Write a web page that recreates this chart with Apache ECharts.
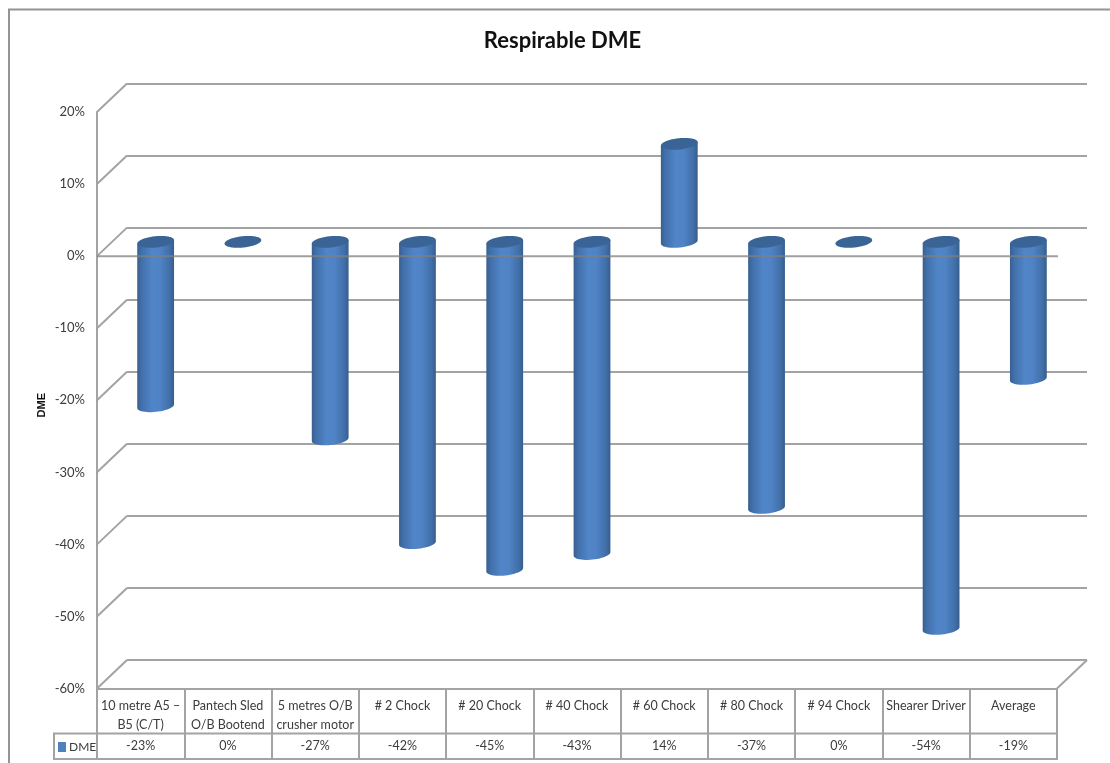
<!DOCTYPE html>
<html>
<head>
<meta charset="utf-8">
<style>html,body{margin:0;padding:0;background:#fff}#c{width:1110px;height:763px}</style>
<script src="https://cdn.jsdelivr.net/npm/echarts@6/dist/echarts.min.js"></script>
</head>
<body>
<div id="c"></div>
<script>
// ---- data ----
const categories = ['10 metre A5 –\nB5 (C/T)', 'Pantech Sled\nO/B Bootend', '5 metres O/B\ncrusher motor', '# 2 Chock', '# 20 Chock', '# 40 Chock', '# 60 Chock', '# 80 Chock', '# 94 Chock', 'Shearer Driver', 'Average'];
const dmeValues = [-22.8, 0, -27.4, -41.8, -45.5, -43.3, 13.6, -36.9, 0, -53.7, -19];
const tableLabels = ['-23%', '0%', '-27%', '-42%', '-45%', '-43%', '14%', '-37%', '0%', '-54%', '-19%'];
const yTicks = [20, 10, 0, -10, -20, -30, -40, -50, -60];
const seriesName = 'DME';
const chartTitle = 'Respirable DME';

// ---- layout and style ----
const FONT = 'Lato, "Noto Sans", sans-serif';
const GRID = '#a3a3a3', TEXT = '#3c3c3c';
const DX = 30, DY = -28.5;           // depth of the 3D box
const L = 97, W = 960, T = 112, H = 576.5;
const TILT = -6 * Math.PI / 180, CAP_B = 5.7;

function capPoint(cx, cy, a, t) {
  return [
    cx + a * Math.cos(t) * Math.cos(TILT) - CAP_B * Math.sin(t) * Math.sin(TILT),
    cy + a * Math.cos(t) * Math.sin(TILT) + CAP_B * Math.sin(t) * Math.cos(TILT)
  ];
}

function renderCylinder(params, api) {
  const i = api.value(0), v = api.value(1);
  const base = api.coord([i, 0]), tip = api.coord([i, v]);
  const a = api.size([1, 0])[0] * 0.212;
  const cx = base[0] + DX / 2;
  const topY = Math.min(base[1], tip[1]) + DY / 2;
  const botY = Math.max(base[1], tip[1]) + DY / 2;
  const children = [];
  if (botY - topY > 0.5) {
    const pts = [capPoint(cx, topY, a, Math.PI)];
    for (let k = 0; k <= 24; k++) pts.push(capPoint(cx, botY, a, Math.PI - Math.PI * k / 24));
    pts.push(capPoint(cx, topY, a, 0));
    children.push({
      type: 'polygon',
      shape: { points: pts },
      style: {
        fill: new echarts.graphic.LinearGradient(0, 0, 1, 0, [
          { offset: 0, color: '#38608f' },
          { offset: 0.12, color: '#4270aa' },
          { offset: 0.4, color: '#5085c8' },
          { offset: 0.62, color: '#4f83c6' },
          { offset: 0.88, color: '#416fa8' },
          { offset: 1, color: '#375e8c' }
        ])
      }
    });
  }
  const cap = [];
  for (let k = 0; k < 48; k++) cap.push(capPoint(cx, topY, a, 2 * Math.PI * k / 48));
  children.push({ type: 'polygon', shape: { points: cap }, style: { fill: '#3b6496' } });
  return { type: 'group', children };
}

function renderWall(params, api) {
  const v = api.value(0), y = api.coord([0, v])[1];
  const cs = params.coordSys;
  const lineStyle = { stroke: GRID, lineWidth: 2, fill: null };
  const out = [{ type: 'line', shape: { x1: cs.x, y1: y, x2: cs.x + DX, y2: y + DY }, style: lineStyle }];
  if (v === yTicks[yTicks.length - 1]) {
    out.push({ type: 'line', shape: { x1: cs.x + cs.width, y1: y, x2: cs.x + cs.width + DX, y2: y + DY }, style: lineStyle });
  }
  return { type: 'group', children: out };
}

function renderFrontZero(params, api) {
  const y = api.coord([0, api.value(0)])[1], cs = params.coordSys;
  return {
    type: 'line',
    shape: { x1: cs.x, y1: y, x2: cs.x + cs.width + 1, y2: y },
    style: { stroke: '#808080', lineWidth: 2, opacity: 0.75 }
  };
}

const chart = echarts.init(document.getElementById('c'), null, { renderer: 'canvas' });
chart.setOption({
  animation: false,
  backgroundColor: '#ffffff',
  title: {
    text: chartTitle, left: 557.5, top: 25, textAlign: 'center',
    textStyle: { fontFamily: FONT, fontSize: 22, fontWeight: 'bold', color: '#111' }
  },
  legend: {
    data: [{ name: seriesName, icon: 'rect', itemStyle: { color: '#4f81bd' } }],
    left: 58, top: 741, itemWidth: 8, itemHeight: 10, itemGap: 3,
    textStyle: { fontFamily: FONT, fontSize: 12, color: TEXT, padding: [0, 0, 0, -2] },
    selectedMode: false, padding: 0
  },
  grid: [
    { left: L, top: T, width: W, height: H },
    { left: L + DX, top: T + DY, width: W, height: H }
  ],
  xAxis: [
    {
      type: 'category', gridIndex: 0, data: categories, position: 'bottom',
      axisLine: { onZero: false, lineStyle: { color: GRID, width: 2 } },
      axisTick: { show: true, length: 71, lineStyle: { color: GRID, width: 2 } },
      axisLabel: { interval: 0, margin: 8, fontFamily: FONT, fontSize: 12.5, lineHeight: 19, color: TEXT, hideOverlap: false }
    },
    {
      type: 'category', gridIndex: 0, data: tableLabels, position: 'bottom',
      axisLine: { show: false, onZero: false }, axisTick: { show: false },
      axisLabel: { interval: 0, margin: 51, fontFamily: FONT, fontSize: 12.5, color: TEXT, hideOverlap: false }
    },
    { type: 'category', gridIndex: 1, data: categories, show: false }
  ],
  yAxis: [
    {
      type: 'value', gridIndex: 0, min: -60, max: 20, interval: 10,
      name: seriesName, nameLocation: 'middle', nameRotate: 90, nameGap: 50, nameMoveOverlap: false,
      nameTextStyle: { fontFamily: '"Liberation Sans", sans-serif', fontSize: 11, fontWeight: 'bold', color: '#111', padding: [0, 10, 0, 0] },
      axisLine: { show: true, lineStyle: { color: GRID, width: 2 } },
      axisTick: { show: false }, splitLine: { show: false },
      axisLabel: { margin: 12, fontFamily: FONT, fontSize: 13, color: TEXT, formatter: '{value}%', padding: [4, 0, 0, 0] }
    },
    {
      type: 'value', gridIndex: 1, min: -60, max: 20, interval: 10,
      axisLine: { show: false }, axisTick: { show: false }, axisLabel: { show: false },
      splitLine: { show: true, lineStyle: { color: GRID, width: 2 } }
    }
  ],
  series: [
    {
      type: 'custom', name: 'wall', xAxisIndex: 0, yAxisIndex: 0, clip: false, z: 1, silent: true,
      data: yTicks.map(v => [v]), encode: { y: 0 }, renderItem: renderWall
    },
    {
      type: 'custom', name: seriesName, xAxisIndex: 0, yAxisIndex: 0, clip: false, z: 3,
      itemStyle: { color: '#4f81bd' },
      data: dmeValues.map((v, i) => [i, v]), encode: { x: 0, y: 1 }, renderItem: renderCylinder
    },
    {
      type: 'custom', name: 'zero', xAxisIndex: 0, yAxisIndex: 0, clip: false, z: 4, silent: true,
      data: [[0]], encode: { y: 0 }, renderItem: renderFrontZero
    }
  ],
  graphic: [
    { type: 'polyline', silent: true, shape: { points: [[9, 763], [9, 9.5], [1110, 9.5]] }, style: { stroke: '#949494', lineWidth: 2, fill: null } },
    { type: 'rect', silent: true, shape: { x: 54, y: 733.5, width: 1003, height: 25.5 }, style: { stroke: GRID, lineWidth: 2, fill: null } }
  ]
});
</script>
</body>
</html>
